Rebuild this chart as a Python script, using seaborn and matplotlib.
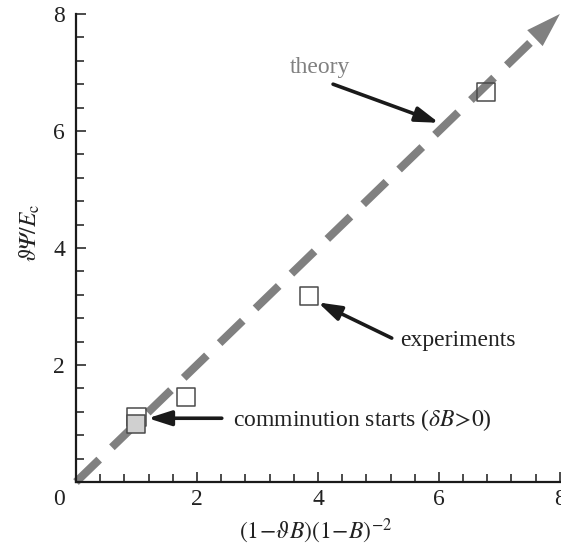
import matplotlib
matplotlib.use("Agg")
import matplotlib.pyplot as plt
import matplotlib.transforms as mtransforms
from matplotlib.ticker import MultipleLocator
import seaborn as sns
import pandas as pd

# ---- data ----
theory_x = [0.0, 7.6]          # theory: y = x (dashed line up to arrow head base)
theory_y = [0.0, 7.6]
arrow_tip = (8.0, 8.0)

exp_x = [1.0, 1.82, 3.85, 6.78]
exp_y = [1.11, 1.45, 3.18, 6.67]

start_x = [1.0]                # comminution starts (filled square)
start_y = [1.0]

x_ticks = [0, 2, 4, 6, 8]
y_ticks = [2, 4, 6, 8]

sns.set_theme(style="ticks")
plt.rcParams["font.family"] = ["Liberation Serif", "DejaVu Serif"]
plt.rcParams["mathtext.fontset"] = "stix"

fig = plt.figure(figsize=(5.61, 5.46), dpi=100)
ax = fig.add_axes([0.1355, 0.1172, 0.8625, 0.8572])

gray = "#808080"
df_t = pd.DataFrame({"x": theory_x, "y": theory_y})
sns.lineplot(data=df_t, x="x", y="y", ax=ax, color=gray, lw=5.8,
             clip_on=False, zorder=2)
ln = ax.lines[-1]
ln.set_dashes((4.0, 2.2))
ln.set_dash_capstyle("butt")

ax.annotate("", xy=arrow_tip, xytext=(theory_x[-1] - 0.05, theory_y[-1] - 0.05),
            arrowprops=dict(arrowstyle="-|>,head_length=2.5,head_width=0.8",
                            fc=gray, ec="none", lw=0, mutation_scale=10,
                            shrinkA=0, shrinkB=0),
            annotation_clip=False, zorder=2)

df_e = pd.DataFrame({"x": exp_x, "y": exp_y})
sns.scatterplot(data=df_e, x="x", y="y", ax=ax, marker="s", s=175,
                facecolor="none", edgecolor="#4a4a4a", linewidth=1.1,
                zorder=3, clip_on=False)
df_s = pd.DataFrame({"x": start_x, "y": start_y})
sns.scatterplot(data=df_s, x="x", y="y", ax=ax, marker="s", s=175,
                facecolor="#d0d0d0", edgecolor="#4a4a4a", linewidth=1.1,
                zorder=4, clip_on=False)

ax.set_xlim(0, 8)
ax.set_ylim(0, 8)
ax.set_xticks(x_ticks)
ax.set_yticks(y_ticks)
ax.set_xticklabels([str(t) for t in x_ticks])
ax.set_yticklabels([str(t) for t in y_ticks])
ax.xaxis.set_minor_locator(MultipleLocator(0.4))
ax.yaxis.set_minor_locator(MultipleLocator(0.4))
ax.tick_params(which="both", direction="in", colors="#1a1a1a", width=1.1,
               labelsize=17, labelcolor="#222222")
ax.tick_params(which="major", length=7)
ax.tick_params(which="minor", length=6)
ax.tick_params(axis="x", pad=5)
ax.tick_params(axis="y", pad=8)
# shift the origin "0" label to the left
lbl0 = ax.get_xticklabels()[0]
lbl0.set_transform(lbl0.get_transform() +
                   mtransforms.ScaledTranslation(-17 / 100, 0, fig.dpi_scale_trans))

for s in ["top", "right"]:
    ax.spines[s].set_visible(False)
for s in ["left", "bottom"]:
    ax.spines[s].set_linewidth(1.6)
    ax.spines[s].set_color("#1a1a1a")

ax.set_xlabel(r"$(1\!-\!\vartheta B)(1\!-\!B)^{-2}$", fontsize=17,
              color="#222222", va="center")
ax.xaxis.set_label_coords(0.496, -0.105)
ax.set_ylabel("$\\vartheta\U0001D6F9/E_{\\mathrm{c}}$", fontsize=17,
              color="#222222", va="center")
ax.yaxis.set_label_coords(-0.095, 0.532)

arrow_kw = dict(arrowstyle="-|>,head_length=1.4,head_width=0.45", color="#1a1a1a",
                lw=2.6, mutation_scale=10, shrinkA=0, shrinkB=0)
ax.annotate("theory", xy=(4.03, 7.09), ha="center", va="center", fontsize=17,
            color=gray)
ax.annotate("", xy=(6.0, 6.14), xytext=(4.25, 6.8), arrowprops=arrow_kw)
ax.annotate("experiments", xy=(5.36, 2.42), ha="left", va="center", fontsize=17,
            color="#222222")
ax.annotate("", xy=(4.0, 3.07), xytext=(5.22, 2.46), arrowprops=arrow_kw)
ax.annotate(r"comminution starts ($\delta B\!>\!0$)", xy=(2.59, 1.06), ha="left",
            va="center", fontsize=17, color="#222222")
ax.annotate("", xy=(1.19, 1.09), xytext=(2.41, 1.09), arrowprops=arrow_kw)

fig.savefig("out.png", dpi=100)
